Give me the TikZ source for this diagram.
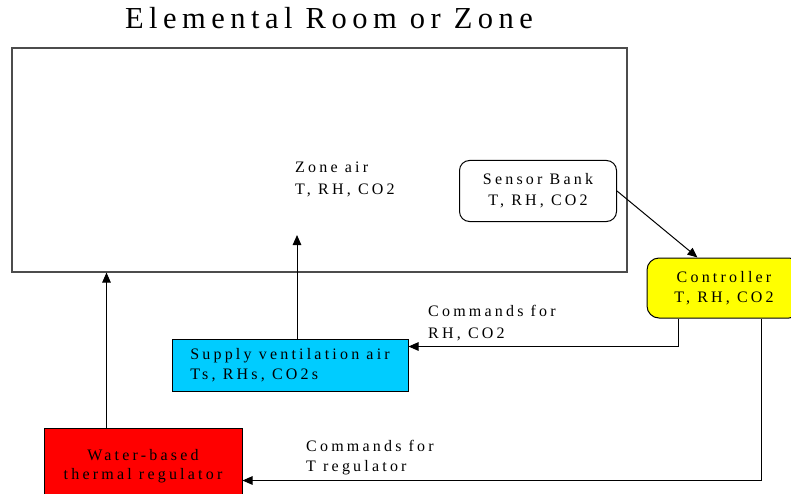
\documentclass[tikz,border=0pt]{standalone}
\usepackage{fontspec}
\setmainfont{Liberation Serif}
\newfontfamily\bodyfont{Liberation Serif}[LetterSpace=20]
\newfontfamily\titlefont{Liberation Serif}[LetterSpace=18]
\usetikzlibrary{arrows.meta,calc}
\definecolor{supplyblue}{RGB}{0,204,255}
\definecolor{ctrlyellow}{RGB}{255,255,0}
\definecolor{regred}{RGB}{255,0,0}
\tikzset{
  txt/.style={inner sep=0pt, font=\bodyfont\fontsize{16}{21}\selectfont},
  boxnode/.style={draw=black, line width=1pt, inner sep=0pt, align=center, font=\bodyfont\fontsize{16}{20}\selectfont},
  arr/.style={line width=1pt, -{Triangle[length=10pt,width=8.5pt]}},
  ln/.style={line width=1pt}
}
\begin{document}
\begin{tikzpicture}[x=1pt,y=-1pt]
\useasboundingbox (0,0) rectangle (791,494);
\node[anchor=base, inner sep=0pt, font=\titlefont\fontsize{30.5}{34}\selectfont] (title) at (329,29) {Elemental Room or Zone};
\node[draw=black!70, line width=1.1pt, minimum width=615pt, minimum height=224pt, inner sep=0pt] (room) at (319.5,160) {};
\node[txt, anchor=north west, align=left, font=\bodyfont\fontsize{16}{22}\selectfont] (zoneair) at (295,162) {Zone air\\T, RH, CO2};
\node[boxnode, rounded corners=10pt, minimum width=157pt, minimum height=61pt, font=\bodyfont\fontsize{16}{21}\selectfont] (sensor) at (538,191) {Sensor Bank\\T, RH, CO2};
\node[boxnode, fill=ctrlyellow, rounded corners=12pt, minimum width=154pt, minimum height=60pt] (controller) at (724,288) {Controller\\T, RH, CO2};
\node[boxnode, fill=supplyblue, align=left, minimum width=236pt, minimum height=52pt, font=\bodyfont\fontsize{16}{19.5}\selectfont] (supply) at (290,365) {Supply ventilation air\\Ts, RHs, CO2s};
\node[boxnode, fill=regred, minimum width=198pt, minimum height=76pt, font=\bodyfont\fontsize{16}{19.5}\selectfont] (water) at (143,466) {Water-based\\thermal regulator};
\node[txt, anchor=north west, align=left, font=\bodyfont\fontsize{16}{22}\selectfont] (cmd1) at (428,305) {Commands for\\RH, CO2};
\node[txt, anchor=north west, align=left, font=\bodyfont\fontsize{16}{20}\selectfont] (cmd2) at (306,440) {Commands for\\T regulator};
\coordinate (zonept) at (297,235);
\coordinate (wtop) at ($(water.north west)+(63,0)$);
\coordinate (stop) at ($(supply.north)+(7,0)$);
\draw[arr] (sensor.east) -- ($(controller.north west)+(51,0)$);
\draw[arr] ($(controller.south west)+(32,0)$) |- ($(supply.north east)+(0,8)$);
\draw[arr] ($(controller.south west)+(115,0)$) |- ($(water.north east)+(0,53)$);
\draw[arr] (stop) -- (zonept);
\draw[arr] (wtop) -- (wtop |- room.south);
\end{tikzpicture}
\end{document}
